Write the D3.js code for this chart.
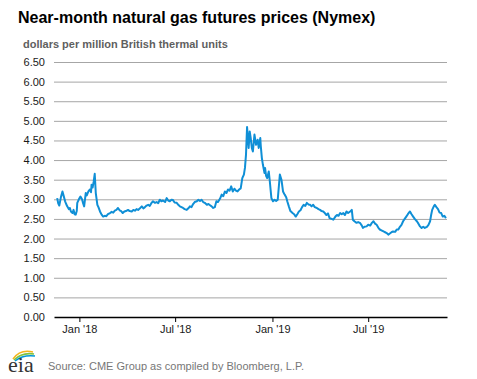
<!DOCTYPE html>
<html>
<head>
<meta charset="utf-8">
<script src="https://cdn.jsdelivr.net/npm/d3@7"></script>
<style>
  html, body { margin: 0; padding: 0; background: #fff; }
  svg { display: block; font-family: "Liberation Sans", Arial, sans-serif; }
</style>
</head>
<body>
<svg id="chart" width="477" height="379"></svg>
<script>
const titleText = "Near-month natural gas futures prices (Nymex)";
const unitText = "dollars per million British thermal units";
const sourceText = "Source: CME Group as compiled by Bloomberg, L.P.";

const yTicks = [0, 0.5, 1, 1.5, 2, 2.5, 3, 3.5, 4, 4.5, 5, 5.5, 6, 6.5];
const xTickDates = ["2018-01-01", "2018-07-01", "2019-01-01", "2019-07-01"];
const xTickLabels = ["Jan '18", "Jul '18", "Jan '19", "Jul '19"];
const xDomain = ["2017-11-14", "2019-11-27"];

const dates = [
"2017-11-20","2017-11-22","2017-11-24","2017-11-27","2017-11-30","2017-12-02","2017-12-05","2017-12-07","2017-12-09","2017-12-12",
"2017-12-14","2017-12-16","2017-12-19","2017-12-21","2017-12-23","2017-12-25","2017-12-27","2017-12-28","2017-12-31","2018-01-03",
"2018-01-06","2018-01-08","2018-01-10","2018-01-13","2018-01-15","2018-01-18","2018-01-21","2018-01-23","2018-01-24","2018-01-26",
"2018-01-28","2018-01-30","2018-02-01","2018-02-04","2018-02-06","2018-02-09","2018-02-12","2018-02-15","2018-02-18","2018-02-21",
"2018-02-24","2018-02-28","2018-03-03","2018-03-06","2018-03-09","2018-03-12","2018-03-15","2018-03-18","2018-03-21","2018-03-24",
"2018-03-27","2018-03-30","2018-04-03","2018-04-06","2018-04-10","2018-04-13","2018-04-16","2018-04-19","2018-04-22","2018-04-26",
"2018-04-29","2018-05-02","2018-05-05","2018-05-08","2018-05-11","2018-05-14","2018-05-17","2018-05-20","2018-05-24","2018-05-27",
"2018-05-30","2018-06-02","2018-06-05","2018-06-08","2018-06-12","2018-06-15","2018-06-18","2018-06-21","2018-06-24","2018-06-27",
"2018-06-30","2018-07-04","2018-07-07","2018-07-10","2018-07-13","2018-07-16","2018-07-19","2018-07-23","2018-07-26","2018-07-29",
"2018-08-01","2018-08-04","2018-08-07","2018-08-11","2018-08-14","2018-08-17","2018-08-20","2018-08-23","2018-08-26","2018-08-30",
"2018-09-02","2018-09-05","2018-09-08","2018-09-11","2018-09-14","2018-09-17","2018-09-20","2018-09-24","2018-09-27","2018-09-30",
"2018-10-03","2018-10-06","2018-10-09","2018-10-12","2018-10-15","2018-10-18","2018-10-21","2018-10-24","2018-10-27","2018-10-30",
"2018-11-02","2018-11-05","2018-11-08","2018-11-10","2018-11-12","2018-11-14","2018-11-16","2018-11-17","2018-11-19","2018-11-21",
"2018-11-23","2018-11-25","2018-11-28","2018-12-01","2018-12-04","2018-12-06","2018-12-09","2018-12-10","2018-12-12","2018-12-14",
"2018-12-17","2018-12-18","2018-12-20","2018-12-22","2018-12-25","2018-12-27","2018-12-30","2019-01-02","2019-01-05","2019-01-08",
"2019-01-11","2019-01-15","2019-01-18","2019-01-21","2019-01-24","2019-01-27","2019-01-29","2019-02-01","2019-02-04","2019-02-08",
"2019-02-11","2019-02-14","2019-02-17","2019-02-20","2019-02-23","2019-02-26","2019-03-01","2019-03-04","2019-03-07","2019-03-10",
"2019-03-13","2019-03-16","2019-03-19","2019-03-22","2019-03-26","2019-03-29","2019-04-01","2019-04-04","2019-04-07","2019-04-10",
"2019-04-13","2019-04-16","2019-04-19","2019-04-23","2019-04-26","2019-04-30","2019-05-03","2019-05-06","2019-05-09","2019-05-12",
"2019-05-15","2019-05-18","2019-05-21","2019-05-24","2019-05-28","2019-05-31","2019-06-02","2019-06-05","2019-06-09","2019-06-12",
"2019-06-16","2019-06-19","2019-06-21","2019-06-24","2019-06-28","2019-07-01","2019-07-05","2019-07-08","2019-07-11","2019-07-14",
"2019-07-17","2019-07-20","2019-07-23","2019-07-26","2019-07-30","2019-08-02","2019-08-05","2019-08-08","2019-08-11","2019-08-14",
"2019-08-17","2019-08-21","2019-08-24","2019-08-27","2019-08-30","2019-09-02","2019-09-05","2019-09-08","2019-09-11","2019-09-14",
"2019-09-18","2019-09-21","2019-09-24","2019-09-27","2019-10-01","2019-10-04","2019-10-07","2019-10-10","2019-10-13","2019-10-16",
"2019-10-20","2019-10-23","2019-10-26","2019-10-28","2019-10-30","2019-11-02","2019-11-04","2019-11-07","2019-11-10","2019-11-13",
"2019-11-16","2019-11-19","2019-11-22","2019-11-25"
];

const prices = [
3.03,2.90,2.84,3.05,3.20,3.10,2.95,2.88,2.82,2.75,
2.78,2.69,2.65,2.73,2.62,2.61,2.70,2.91,3.00,3.07,
3.00,2.90,2.82,3.16,3.10,3.20,3.25,3.18,3.37,3.30,
3.45,3.65,3.16,2.86,2.80,2.69,2.61,2.56,2.58,2.57,
2.62,2.65,2.68,2.66,2.71,2.73,2.78,2.72,2.70,2.65,
2.69,2.70,2.73,2.70,2.69,2.73,2.71,2.75,2.73,2.78,
2.82,2.77,2.80,2.84,2.86,2.83,2.90,2.95,2.91,2.93,
2.90,2.99,2.95,2.97,2.93,3.03,2.97,2.95,2.99,2.98,
2.92,2.91,2.86,2.82,2.80,2.78,2.75,2.73,2.77,2.82,
2.80,2.88,2.93,2.95,2.99,2.96,2.99,2.93,2.91,2.86,
2.88,2.85,2.82,2.78,2.80,2.95,2.93,3.02,3.12,3.08,
3.20,3.16,3.25,3.22,3.33,3.20,3.27,3.22,3.20,3.25,
3.28,3.54,3.63,3.80,4.14,4.84,4.50,4.31,4.73,4.55,
4.31,4.22,4.65,4.39,4.52,4.31,4.56,4.35,4.05,3.88,
3.67,3.80,3.60,3.54,3.71,3.46,3.03,2.95,2.99,2.96,
2.99,3.63,3.50,3.20,3.12,3.05,2.95,2.82,2.70,2.65,
2.62,2.56,2.62,2.69,2.72,2.80,2.86,2.83,2.91,2.87,
2.86,2.82,2.86,2.80,2.78,2.75,2.73,2.70,2.69,2.65,
2.60,2.64,2.52,2.50,2.48,2.56,2.60,2.58,2.65,2.62,
2.65,2.60,2.69,2.65,2.69,2.73,2.48,2.44,2.40,2.42,
2.39,2.33,2.27,2.30,2.31,2.35,2.33,2.40,2.44,2.38,
2.35,2.28,2.23,2.21,2.18,2.16,2.14,2.10,2.13,2.16,
2.18,2.17,2.23,2.23,2.30,2.35,2.44,2.50,2.56,2.62,
2.69,2.62,2.56,2.50,2.44,2.38,2.31,2.27,2.30,2.27,
2.30,2.35,2.44,2.60,2.73,2.82,2.86,2.80,2.75,2.66,
2.65,2.56,2.58,2.52
];

const parse = d3.timeParse("%Y-%m-%d");
const data = dates.map((d, i) => ({ date: parse(d), value: prices[i] }));

const svg = d3.select("#chart");
const plotLeft = 54, plotRight = 447, plotTop = 62, plotBottom = 317;

const x = d3.scaleTime().domain(xDomain.map(parse)).range([plotLeft, plotRight]);
const y = d3.scaleLinear().domain([0, 6.5]).range([plotBottom, plotTop]);

// Title and units
svg.append("text").attr("x", 18).attr("y", 23)
  .attr("font-size", 16).attr("font-weight", "bold").attr("fill", "#000")
  .text(titleText);
svg.append("text").attr("x", 23).attr("y", 48)
  .attr("font-size", 11).attr("font-weight", "bold").attr("fill", "#5f5f5f")
  .text(unitText);

// Gridlines + y labels
const yAxis = d3.axisLeft(y).tickValues(yTicks).tickFormat(d3.format(".2f"))
  .tickSize(-(plotRight - plotLeft)).tickPadding(9);
const gy = svg.append("g").attr("transform", `translate(${plotLeft},0)`).call(yAxis);
gy.select(".domain").remove();
gy.selectAll(".tick line").attr("stroke", "#a6a6a6").attr("stroke-width", 1)
  .filter(d => d === 0).remove();
gy.selectAll(".tick text").attr("font-size", 11).attr("fill", "#1a1a1a")
  .attr("font-family", "Liberation Sans, Arial, sans-serif");

// Line
const line = d3.line().x(d => x(d.date)).y(d => y(d.value));
svg.append("path").datum(data)
  .attr("fill", "none").attr("stroke", "#0f8fd6").attr("stroke-width", 2)
  .attr("stroke-linejoin", "round")
  .attr("d", line);

// X axis
const xAxis = d3.axisBottom(x).tickValues(xTickDates.map(parse))
  .tickFormat((d, i) => xTickLabels[i]).tickSize(5).tickSizeOuter(0).tickPadding(3);
const gx = svg.append("g").attr("transform", `translate(0,${plotBottom})`).call(xAxis);
gx.select(".domain").attr("stroke", "#000").attr("stroke-width", 1.6);
gx.selectAll(".tick line").attr("stroke", "#000").attr("stroke-width", 1);
gx.selectAll(".tick text").attr("font-size", 11).attr("fill", "#1a1a1a")
  .attr("font-family", "Liberation Sans, Arial, sans-serif");

// Footer: eia logo
const logo = svg.append("g");
logo.append("path").attr("d", "M13,359 Q20,349 33,352").attr("fill", "none")
  .attr("stroke", "#f4b51c").attr("stroke-width", 1.6);
logo.append("path").attr("d", "M14,360 Q22,352 34,354").attr("fill", "none")
  .attr("stroke", "#7dc242").attr("stroke-width", 1.6);
logo.append("path").attr("d", "M15,361 Q23,354.5 35,356").attr("fill", "none")
  .attr("stroke", "#0096d7").attr("stroke-width", 1.4);
logo.append("text").attr("x", 8).attr("y", 372)
  .attr("font-family", "Liberation Serif, Times New Roman, serif")
  .attr("font-size", 22).attr("fill", "#333").text("eia");

svg.append("text").attr("x", 48).attr("y", 370)
  .attr("font-size", 11).attr("fill", "#777").text(sourceText);
</script>
</body>
</html>
